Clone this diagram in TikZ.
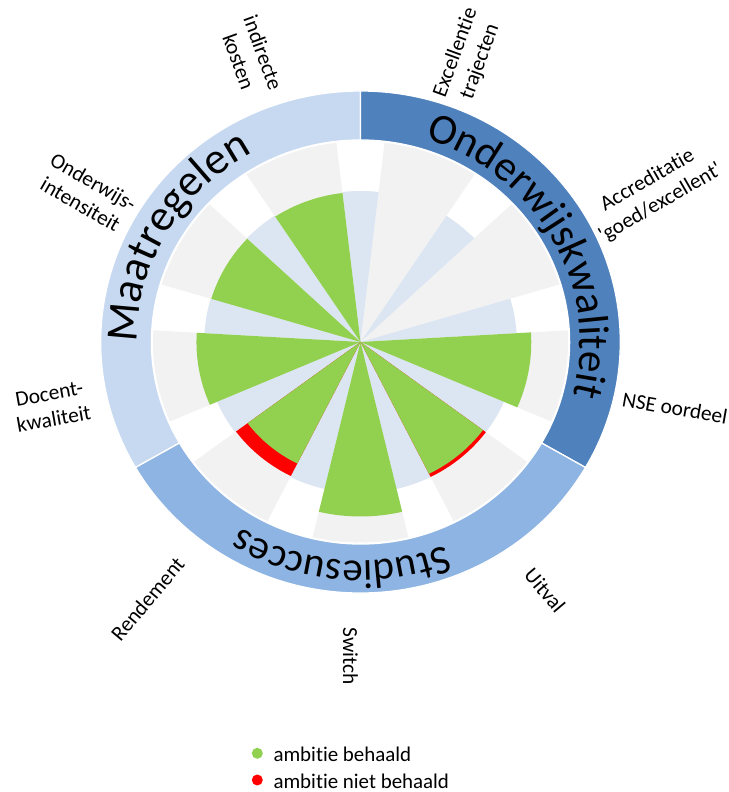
\documentclass[tikz,border=0pt]{standalone}
\usepackage{fontspec}
\setmainfont{Carlito}[Ligatures={TeX,CommonOff}]
\usetikzlibrary{decorations.text}
\definecolor{cMaat}{HTML}{C6D9F1}
\definecolor{cOnd}{HTML}{4F81BD}
\definecolor{cStu}{HTML}{8DB4E2}
\definecolor{cGray}{HTML}{F2F2F2}
\definecolor{cSep}{HTML}{DCE6F2}
\definecolor{cGreen}{HTML}{92D050}
\definecolor{cRed}{HTML}{FF0000}
\newcommand{\pieslice}[4]{\fill[#4] (0,0) -- (#1:#3) arc[start angle=#1, end angle=#2, radius=#3] -- cycle;}
\newcommand{\ringseg}[5]{\filldraw[#5] (#1:#3) arc[start angle=#1, end angle=#2, radius=#3] -- (#2:#4) arc[start angle=#2, end angle=#1, radius=#4] -- cycle;}
\newcommand{\ringfont}[1]{\fontsize{#1}{#1}\selectfont}
\begin{document}
\begin{tikzpicture}[x=1bp,y=1bp,
  lbl/.style={font=\fontsize{21.5}{26}\selectfont, align=center, inner sep=0pt},
  legtext/.style={font=\fontsize{21}{26}\selectfont, anchor=base west, inner sep=0pt},
  ringedge/.style={draw=white, line width=1.3bp}]
\useasboundingbox (0,0) rectangle (729,792);
\fill[white] (0,0) rectangle (729,792);
\begin{scope}[shift={(360.5,450)}, x=1.035bp, y=1bp]
  % background wedges and separators
  \foreach \c in {110,70,30,-10,-50,-90,-130,-170,150} {
    \pgfmathsetmacro{\aa}{\c-13.3333}
    \pgfmathsetmacro{\ab}{\c+13.3333}
    \pgfmathsetmacro{\ac}{\c+26.6667}
    \pieslice{\aa}{\ab}{200.5}{cGray}
    \pieslice{\ab}{\ac}{151}{cSep}
  }
  % red (ambitie niet behaald)
  \foreach \c/\r in {230/150, 310/151} {
    \pgfmathsetmacro{\aa}{\c-13.3333}
    \pgfmathsetmacro{\ab}{\c+13.3333}
    \pieslice{\aa}{\ab}{\r}{cRed}
  }
  % green (ambitie behaald)
  \foreach \c/\r in {110/150, 150/150.5, 190/158.5, 230/136, 270/174.5, 310/147.5, 350/165} {
    \pgfmathsetmacro{\aa}{\c-13.3333}
    \pgfmathsetmacro{\ab}{\c+13.3333}
    \pieslice{\aa}{\ab}{\r}{cGreen}
  }
  % outer ring
  \ringseg{90}{210}{202}{251}{cMaat, ringedge}
  \ringseg{-30}{90}{202}{251}{cOnd, ringedge}
  \ringseg{210}{330}{202}{251}{cStu, ringedge}
  % ring texts
  \path[decorate, decoration={text along path, text align=center,
        text={|\ringfont{45}|Maatregelen}}]
    (210:216) arc[start angle=210, end angle=90, radius=216];
  \path[decorate, decoration={text along path, text align=center,
        text={|\ringfont{43}|Onderwijskwaliteit}}]
    (89:212) arc[start angle=89, end angle=-31, radius=212];
  \path[decorate, decoration={text along path, text align=center,
        text={|\ringfont{41}|Studiesucces}}]
    (-35:219) arc[start angle=-35, end angle=-155, radius=219];
\end{scope}
% category labels
\node[lbl, rotate=-70] (ind) at (251,735) {indirecte\\kosten};
\node[lbl, rotate=70] (exc) at (468,735) {Excellentie\\trajecten};
\node[lbl, rotate=30] (acc) at (654,600) {Accreditatie\\\textquotesingle goed/excellent\textquotesingle};
\node[lbl, rotate=-10] (nse) at (675,384) {NSE oordeel};
\node[lbl, rotate=-50] (uit) at (545,201.5) {Uitval};
\node[lbl, rotate=-90] (swi) at (350.5,135.5) {Switch};
\node[lbl, rotate=50] (ren) at (147.5,193) {Rendement};
\node[lbl, rotate=10] (doc) at (51.5,385.5) {Docent-\\kwaliteit};
\node[lbl, rotate=-30] (ond) at (87,599) {Onderwijs-\\intensiteit};
% legend
\fill[cGreen] (257.3,38.7) circle[radius=5.5];
\fill[cRed] (257.3,12) circle[radius=5.5];
\node[legtext] (leg1) at (273.3,30.3) {ambitie behaald};
\node[legtext] (leg2) at (273.3,3.7) {ambitie niet behaald};
\end{tikzpicture}
\end{document}
